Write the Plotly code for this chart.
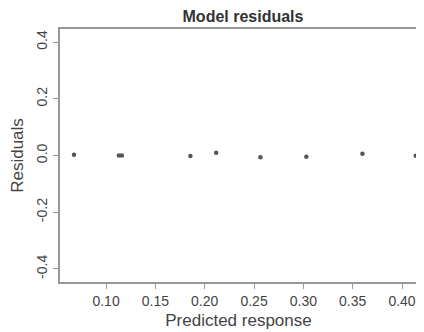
import plotly.graph_objects as go

predicted = [0.0675, 0.113, 0.116, 0.1855, 0.2116, 0.2565, 0.303, 0.3599, 0.4139]
residuals = [0.003, 0.0, 0.0, -0.002, 0.010, -0.006, -0.004, 0.006, -0.001]

x_ticks = [0.10, 0.15, 0.20, 0.25, 0.30, 0.35, 0.40]
x_labels = ["0.10", "0.15", "0.20", "0.25", "0.30", "0.35", "0.40"]
y_ticks = [0.4, 0.2, 0.0, -0.2, -0.4]
y_labels = ["0.4", "0.2", "0.0", "-0.2", "-0.4"]

fig = go.Figure()
fig.add_trace(go.Scatter(
    x=predicted, y=residuals, mode="markers",
    marker=dict(size=4.5, color="#555555"),
    cliponaxis=False,
    showlegend=False,
))

axis_color = "#999999"
font = dict(family="Liberation Sans, Arial, sans-serif", size=14, color="#444444")

# page body has an 8px margin, so the figure is sized to fit the 424x332 window
W, H = 416, 324
fig.update_layout(
    width=W, height=H,
    margin=dict(l=52, r=7, t=21, b=50),
    paper_bgcolor="white", plot_bgcolor="white",
    font=font,
    title=dict(text="<b>Model residuals</b>", x=235 / W, xanchor="center",
               y=1 - 8 / H, yanchor="middle",
               font=dict(family="Liberation Sans, Arial, sans-serif", size=16, color="#333333")),
    xaxis=dict(
        range=[0.0533, 0.4152], tickvals=x_ticks, ticktext=x_labels,
        ticks="outside", ticklen=5, tickcolor=axis_color,
        showline=True, linecolor=axis_color, linewidth=1.5, mirror=True,
        showgrid=False, zeroline=False, automargin=False,
        title=dict(text="Predicted response", standoff=7),
    ),
    yaxis=dict(
        range=[-0.446, 0.446], tickvals=y_ticks, ticktext=y_labels,
        tickangle=-90, ticklabelstandoff=1,
        ticks="outside", ticklen=5, tickcolor=axis_color,
        showline=True, linecolor=axis_color, linewidth=1.5, mirror=True,
        showgrid=False, zeroline=False, automargin=False,
        title=dict(text="Residuals", standoff=10),
    ),
)

fig.write_html("out.html")
